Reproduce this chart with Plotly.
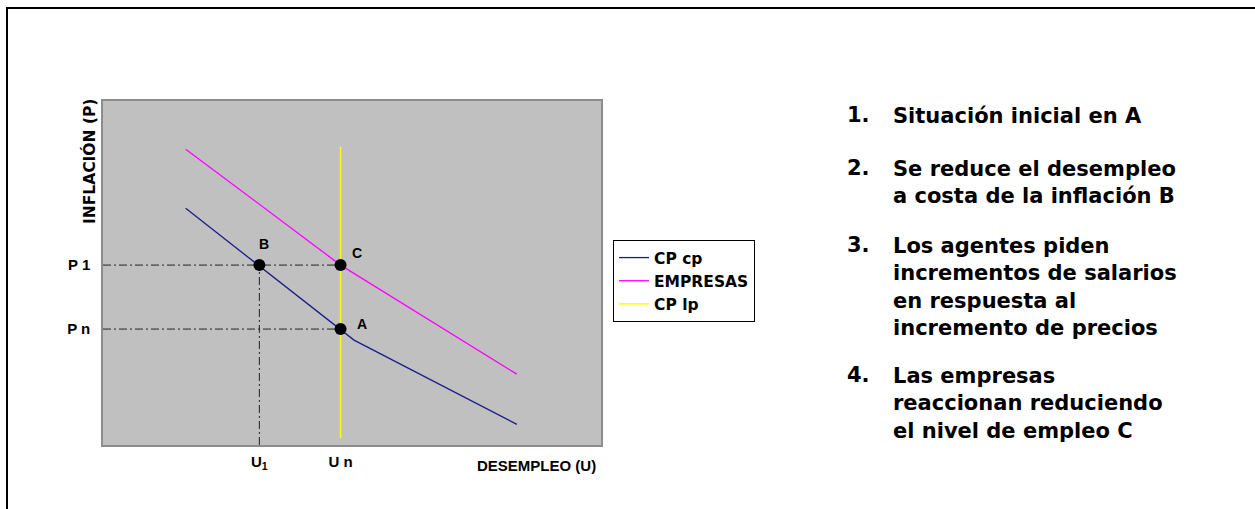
import plotly.graph_objects as go

# ---------------- data (axis units 0-100) ----------------
U1 = 31.4
Un = 47.7
P1 = 52.3
Pn = 33.7

cp_cp_x = [16.6, 50.4, 83.1]
cp_cp_y = [68.8, 30.5, 6.0]

empresas_x = [16.6, 47.7, 83.1]
empresas_y = [86.0, 52.3, 20.6]

cp_lp_x = [Un, Un]
cp_lp_y = [2.0, 86.7]

point_names = ["B", "C", "A"]
point_x = [U1, Un, Un]
point_y = [P1, P1, Pn]

y_tick_vals = [Pn, P1]
y_tick_text = ["P n", "P 1"]
x_tick_vals = [U1, Un]
x_tick_text = ["U<sub>1</sub>", "U n"]

series_names = ["CP cp", "EMPRESAS", "CP lp"]

notes_numbers = ["1.", "2.", "3.", "4."]
notes_texts = [
    "Situación inicial en A",
    "Se reduce el desempleo<br>a costa de la inflación B",
    "Los agentes piden<br>incrementos de salarios<br>en respuesta al<br>incremento de precios",
    "Las empresas<br>reaccionan reduciendo<br>el nivel de empleo C",
]

# ---------------- layout helpers (pixel geometry) ----------------
W, H = 1255, 509
PL, PR, PT, PB = 103, 601, 101, 445
pw, ph = PR - PL, PB - PT


def px_x(px):
    return (px - PL) / pw


def px_y(py):
    return (PB - py) / ph


guide = dict(color="#222222", width=1, dash="8px,3px,2px,3px")

fig = go.Figure()

# dash-dot guide lines
fig.add_trace(go.Scatter(x=[0, Un], y=[P1, P1], mode="lines", line=guide,
                         showlegend=False, hoverinfo="skip"))
fig.add_trace(go.Scatter(x=[0, Un], y=[Pn, Pn], mode="lines", line=guide,
                         showlegend=False, hoverinfo="skip"))
fig.add_trace(go.Scatter(x=[U1, U1], y=[0, P1], mode="lines", line=guide,
                         showlegend=False, hoverinfo="skip"))

fig.add_trace(go.Scatter(x=cp_cp_x, y=cp_cp_y, mode="lines", name=series_names[0],
                         line=dict(color="#1c1c8a", width=1.3)))
fig.add_trace(go.Scatter(x=empresas_x, y=empresas_y, mode="lines", name=series_names[1],
                         line=dict(color="#ff00ff", width=1.3)))
fig.add_trace(go.Scatter(x=cp_lp_x, y=cp_lp_y, mode="lines", name=series_names[2],
                         line=dict(color="#ffff00", width=1.5)))

fig.add_trace(go.Scatter(x=point_x, y=point_y, mode="markers", showlegend=False,
                         marker=dict(color="black", size=12), hoverinfo="skip"))

label_font = dict(family="Liberation Sans, Arial, sans-serif", size=14,
                  color="black", weight="bold")
tick_font = dict(family="Liberation Sans, Arial, sans-serif", size=15,
                 color="black", weight="bold")
shifts = {"B": (5, 21), "C": (16, 12), "A": (21, 5)}
for n, x, y in zip(point_names, point_x, point_y):
    dx, dy = shifts[n]
    fig.add_annotation(x=x, y=y, xref="x", yref="y", text=n, showarrow=False,
                       xanchor="center", yanchor="middle",
                       xshift=dx, yshift=dy, font=label_font)

# axis titles
fig.add_annotation(x=px_x(89), y=px_y(162), xref="paper", yref="paper",
                   xanchor="center", yanchor="middle",
                   text="INFLACIÓN (P)", textangle=-90, showarrow=False,
                   font=dict(family="DejaVu Sans, sans-serif", size=15.5,
                             color="black", weight="bold"))
fig.add_annotation(x=px_x(598), y=px_y(466), xref="paper", yref="paper",
                   xanchor="right", yanchor="middle", text="DESEMPLEO (U)",
                   showarrow=False,
                   font=dict(family="Liberation Sans, Arial, sans-serif", size=15,
                             color="black", weight="bold"))

# notes on the right
note_font = dict(family="DejaVu Sans, Verdana, sans-serif", size=21,
                 color="black", weight="bold")
first_line_y = [115, 168, 245, 375]
for num, txt, fy in zip(notes_numbers, notes_texts, first_line_y):
    fig.add_annotation(x=px_x(845), y=px_y(fy), xref="paper", yref="paper",
                       xanchor="left", yanchor="middle", text=num,
                       showarrow=False, font=note_font)
    fig.add_annotation(x=px_x(891), y=px_y(fy - 13.5), xref="paper", yref="paper",
                       xanchor="left", yanchor="top", align="left", text=txt,
                       showarrow=False, font=note_font)

# outer frame (top and left edges)
fig.add_shape(type="path", xref="paper", yref="paper",
              path=f"M {px_x(7)},{px_y(W)} L {px_x(7)},{px_y(8)} L {px_x(W + 5)},{px_y(8)}",
              line=dict(color="black", width=2))

fig.update_layout(
    width=W, height=H,
    margin=dict(l=PL, r=W - PR, t=PT, b=H - PB, pad=0),
    paper_bgcolor="white",
    plot_bgcolor="#c0c0c0",
    showlegend=True,
    legend=dict(x=px_x(613), y=px_y(240), xanchor="left", yanchor="top",
                bgcolor="white", bordercolor="black", borderwidth=1,
                entrywidth=110, entrywidthmode="pixels",
                font=dict(family="DejaVu Sans, sans-serif", size=15.5,
                          color="black", weight="bold")),
    xaxis=dict(range=[0, 100], tickvals=x_tick_vals, ticktext=x_tick_text,
               showgrid=False, zeroline=False, showline=True, mirror=True,
               linecolor="#8c8c8c", linewidth=1.5, ticks="", ticklabelstandoff=2,
               tickfont=tick_font, fixedrange=True),
    yaxis=dict(range=[0, 100], tickvals=y_tick_vals, ticktext=y_tick_text,
               showgrid=False, zeroline=False, showline=True, mirror=True,
               linecolor="#8c8c8c", linewidth=1.5, ticks="", ticklabelstandoff=8,
               tickfont=tick_font, fixedrange=True),
)

fig.write_html("out.html",
               config={"displayModeBar": False},
               post_script="document.body.style.margin='0';document.body.style.overflow='hidden';")
